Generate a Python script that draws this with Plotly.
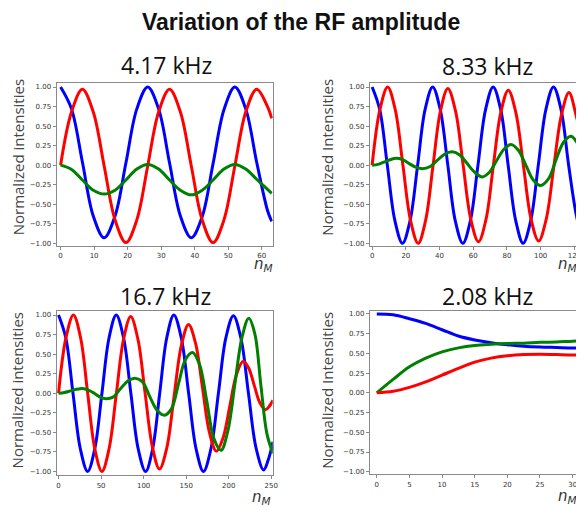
import plotly.graph_objects as go

# ---------------- data ----------------
# 4.17 kHz panel
n_417 = [0, 3.25, 6.5, 9.75, 13, 16.25, 19.5, 22.75, 26, 29.25, 32.5, 35.75, 39,
         42.25, 45.5, 48.75, 52, 55.25, 58.5, 61.75, 63]
blue_417 = [1.0, 0.72, 0.04, -0.65, -0.93, -0.65, 0.03, 0.72, 1.0, 0.72, 0.03, -0.65,
            -0.93, -0.66, 0.02, 0.71, 1.0, 0.72, 0.04, -0.58, -0.72]
red_417 = [0.0, 0.68, 0.97, 0.68, -0.01, -0.70, -0.99, -0.70, -0.01, 0.68, 0.97, 0.68,
           -0.01, -0.70, -0.99, -0.70, -0.01, 0.68, 0.97, 0.75, 0.6]
green_417 = [0.0, -0.055, -0.19, -0.32, -0.37, -0.32, -0.19, -0.05, 0.01, -0.05, -0.19,
             -0.32, -0.38, -0.32, -0.19, -0.05, 0.01, -0.05, -0.18, -0.31, -0.36]

# 8.33 kHz panel
n_833_b = [0, 4.5, 9, 13.5, 18, 22.5, 27, 31.4, 35.9, 40.4, 44.9, 49.3, 53.8, 58.3, 62.8,
           67.3, 71.8, 76.3, 80.7, 85.2, 89.6, 94.1, 98.6, 103.1, 107.6, 112.1, 116.6,
           121, 124, 126, 128]
blue_833 = [1.0, 0.71, 0.0, -0.71, -1.0, -0.71, 0.0, 0.71, 1.0, 0.71, 0.0, -0.71, -1.0,
            -0.71, 0.0, 0.71, 1.0, 0.71, 0.0, -0.71, -1.0, -0.71, 0.0, 0.71, 1.0, 0.71,
            0.0, -0.62, -0.88, -0.97, -0.97]
n_833_r = [0, 4.6, 9.2, 13.7, 18.25, 22.8, 27.3, 31.7, 36.1, 40.5, 44.9, 49.5, 54, 58.6,
           63.1, 67.5, 71.9, 76.3, 80.8, 85.3, 89.8, 94.3, 98.8, 103.3, 107.8, 112.3,
           116.8, 121, 124, 126, 128]
red_833 = [0.0, 0.71, 1.0, 0.71, 0.0, -0.71, -1.0, -0.71, -0.01, 0.69, 0.98, 0.69, 0.0,
           -0.70, -0.98, -0.70, -0.01, 0.67, 0.96, 0.67, -0.01, -0.69, -0.97, -0.69,
           -0.02, 0.64, 0.93, 0.64, 0.35, 0.1, -0.15]
n_833_g = [0, 3.5, 7, 10.6, 14.2, 18.1, 22, 25.9, 29.8, 34.2, 38.6, 43, 47.5, 52, 56.4,
           60.8, 65.3, 69.6, 73.9, 78.1, 82.4, 86.8, 91.2, 95.6, 100, 104.5, 109, 113.5,
           118, 122.8, 126, 128]
green_833 = [0.0, 0.01, 0.04, 0.07, 0.087, 0.07, 0.02, -0.025, -0.045, -0.02, 0.06, 0.14,
             0.17, 0.13, 0.02, -0.09, -0.15, -0.09, 0.06, 0.2, 0.265, 0.19, 0.0, -0.19,
             -0.26, -0.18, 0.06, 0.29, 0.37, 0.245, 0.08, -0.03]

# 16.7 kHz panel
n_167_b = [0, 8.5, 17, 25.6, 34.2, 42.6, 51, 59.4, 67.8, 76.4, 85, 93.6, 102.3, 110.6,
           118.9, 127.2, 135.5, 144.2, 152.9, 161.6, 170.3, 179.1, 187.9, 196.7, 205.5,
           214.4, 223.2, 232.1, 241, 246.5, 252]
blue_167 = [1.0, 0.71, 0.0, -0.71, -1.0, -0.71, 0.0, 0.71, 1.0, 0.71, 0.0, -0.71, -1.0,
            -0.71, 0.0, 0.71, 1.0, 0.71, 0.0, -0.71, -1.0, -0.71, 0.0, 0.71, 0.99, 0.70,
            0.0, -0.70, -0.98, -0.85, -0.62]
n_167_r = [0, 8.75, 17.5, 25.9, 34.25, 42.6, 51, 59.4, 67.9, 76.4, 84.8, 93.3, 101.7,
           110.2, 118.6, 127.2, 135.7, 144.3, 152.8, 161, 169.2, 177.3, 185.5, 193.4,
           201.3, 209.1, 217, 223.5, 230, 236.5, 243, 247.5, 252]
red_167 = [0.0, 0.71, 1.0, 0.71, 0.0, -0.71, -1.0, -0.71, -0.01, 0.69, 0.98, 0.69, 0.005,
           -0.68, -0.97, -0.70, -0.045, 0.61, 0.88, 0.64, 0.07, -0.50, -0.74, -0.57,
           -0.165, 0.24, 0.41, 0.32, 0.10, -0.12, -0.21, -0.17, -0.09]
n_167_g = [0, 7, 14, 21, 28.4, 35, 42, 49, 55.6, 64, 73, 82, 90.6, 99, 107.5, 116, 124.4,
           132.7, 141, 149.2, 157.5, 165.9, 174.2, 182.6, 191, 199, 207.3, 215.5, 223.6,
           230.7, 237.8, 244.9, 252]
green_167 = [0.0, 0.01, 0.03, 0.05, 0.06, 0.04, 0.0, -0.05, -0.07, -0.05, 0.06, 0.16,
             0.19, 0.14, -0.05, -0.22, -0.28, -0.20, 0.12, 0.43, 0.52, 0.36, -0.10, -0.58,
             -0.73, -0.48, 0.12, 0.71, 0.96, 0.76, 0.10, -0.52, -0.77]

# 2.08 kHz panel
n_208 = [0, 2.5, 5, 7.5, 10, 12.5, 15, 17.5, 20, 22.5, 25, 27.5, 30, 32.5]
blue_208 = [1.0, 0.99, 0.94, 0.88, 0.80, 0.72, 0.67, 0.635, 0.61, 0.59, 0.58, 0.575,
            0.57, 0.57]
green_208 = [0.0, 0.17, 0.33, 0.44, 0.52, 0.57, 0.60, 0.615, 0.625, 0.63, 0.64, 0.645,
             0.655, 0.66]
red_208 = [0.0, 0.02, 0.07, 0.14, 0.225, 0.31, 0.39, 0.44, 0.47, 0.485, 0.49, 0.485,
           0.48, 0.48]

panel_titles = ["4.17 kHz", "8.33 kHz", "16.7 kHz", "2.08 kHz"]
ylabels = ["Normalized intensities", "Normalized Intensities",
           "Normalized intensities", "Normalized Intensities"]
y_ticks = [-1.0, -0.75, -0.5, -0.25, 0.0, 0.25, 0.5, 0.75, 1.0]
x_ticks_417 = [0, 10, 20, 30, 40, 50, 60]
x_ticks_833 = [0, 20, 40, 60, 80, 100, 120]
x_ticks_167 = [0, 50, 100, 150, 200, 250]
x_ticks_208 = [0, 5, 10, 15, 20, 25, 30]

# ---------------- figure ----------------
W, H = 584, 505
OFF = 8  # page body margin: figure is drawn 8px right/down of the window corner
BLUE, RED, GREEN = "#0000ff", "#ff0000", "#008000"
LW = 3

fig = go.Figure()


def px_x(p):
    return (p - OFF) / W


def px_y(p):
    return 1 - (p - OFF) / H


panels = [
    # (suffix, xdom page px, ydom page px, xrange, yrange, ticks, mirror_right)
    ("", (57, 275), (83, 247), [-1.2, 63.3], [-1.035, 1.055], x_ticks_417, True),
    ("2", (373, 592), (83, 247), [-1.35, 127.5], [-1.035, 1.055], x_ticks_833, False),
    ("3", (57, 275), (312, 477), [-2.3, 251.7], [-1.047, 1.054], x_ticks_167, True),
    ("4", (373, 592), (312, 476), [-1.06, 32.2], [-1.03, 1.04], x_ticks_208, False),
]

series = [
    [(n_417, blue_417, BLUE), (n_417, red_417, RED), (n_417, green_417, GREEN)],
    [(n_833_b, blue_833, BLUE), (n_833_r, red_833, RED), (n_833_g, green_833, GREEN)],
    [(n_167_b, blue_167, BLUE), (n_167_r, red_167, RED), (n_167_g, green_167, GREEN)],
    [(n_208, blue_208, BLUE), (n_208, green_208, GREEN), (n_208, red_208, RED)],
]

AX_COL = "#8a8a8a"
TICK_FONT = dict(family="DejaVu Sans", size=7, color="#333333")

for i, (suf, xd, yd, xr, yr, xt, mirror_right) in enumerate(panels):
    xa = "x" + suf
    ya = "y" + suf
    for xs, ys, col in series[i]:
        fig.add_trace(go.Scatter(x=xs, y=ys, mode="lines", xaxis=xa, yaxis=ya,
                                 line=dict(color=col, width=LW, shape="spline",
                                           smoothing=1.0),
                                 showlegend=False, hoverinfo="skip"))
    fig.layout["xaxis" + suf] = dict(
        domain=[max(0, px_x(xd[0])), min(1, px_x(xd[1]))], range=xr, anchor=ya,
        tickmode="array", tickvals=xt, ticks="outside", ticklen=3, tickwidth=1,
        tickcolor=AX_COL, showline=True, linecolor=AX_COL, linewidth=1,
        mirror=True, showgrid=False, zeroline=False, tickfont=TICK_FONT,
    )
    fig.layout["yaxis" + suf] = dict(
        domain=[px_y(yd[1]), px_y(yd[0])], range=yr, anchor=xa,
        tickmode="array", tickvals=y_ticks, tickformat=".2f", ticks="outside",
        ticklen=3, tickwidth=1, tickcolor=AX_COL, showline=True, linecolor=AX_COL,
        linewidth=1, mirror=mirror_right, showgrid=False, zeroline=False,
        tickfont=TICK_FONT,
    )

annotations = []
# main title
annotations.append(dict(text="<b>Variation of the RF amplitude</b>", x=px_x(304),
                        y=px_y(22), xref="paper", yref="paper", showarrow=False,
                        xanchor="center", yanchor="middle",
                        font=dict(family="Liberation Sans", size=23, color="#111111")))
# panel titles
title_pos = [(168, 65), (492, 66), (167, 297), (492, 297)]
for t, (tx, ty) in zip(panel_titles, title_pos):
    annotations.append(dict(text=t, x=px_x(tx), y=px_y(ty), xref="paper", yref="paper",
                            showarrow=False, xanchor="center", yanchor="middle",
                            font=dict(family="Open Sans", size=23, color="#111111")))
# y labels
ylab_pos = [(18, 158), (330, 158), (18, 392), (330, 392)]
for t, (lx, ly) in zip(ylabels, ylab_pos):
    annotations.append(dict(text=t, x=px_x(lx), y=px_y(ly), xref="paper", yref="paper",
                            showarrow=False, xanchor="center", yanchor="middle",
                            textangle=-90,
                            font=dict(family="Open Sans", size=15, color="#444444")))
# x labels
xlab_pos = [(266, 266), (572, 266), (264, 499), (572, 498)]
for (lx, ly) in xlab_pos:
    annotations.append(dict(text="<i>n</i><sub><i>M</i></sub>", x=px_x(lx), y=px_y(ly),
                            xref="paper", yref="paper", showarrow=False,
                            xanchor="center", yanchor="middle",
                            font=dict(family="DejaVu Sans", size=15, color="#333333")))

fig.update_layout(
    width=W, height=H, margin=dict(l=0, r=0, t=0, b=0),
    paper_bgcolor="white", plot_bgcolor="white",
    annotations=annotations, showlegend=False,
)

fig.write_html("out.html")
